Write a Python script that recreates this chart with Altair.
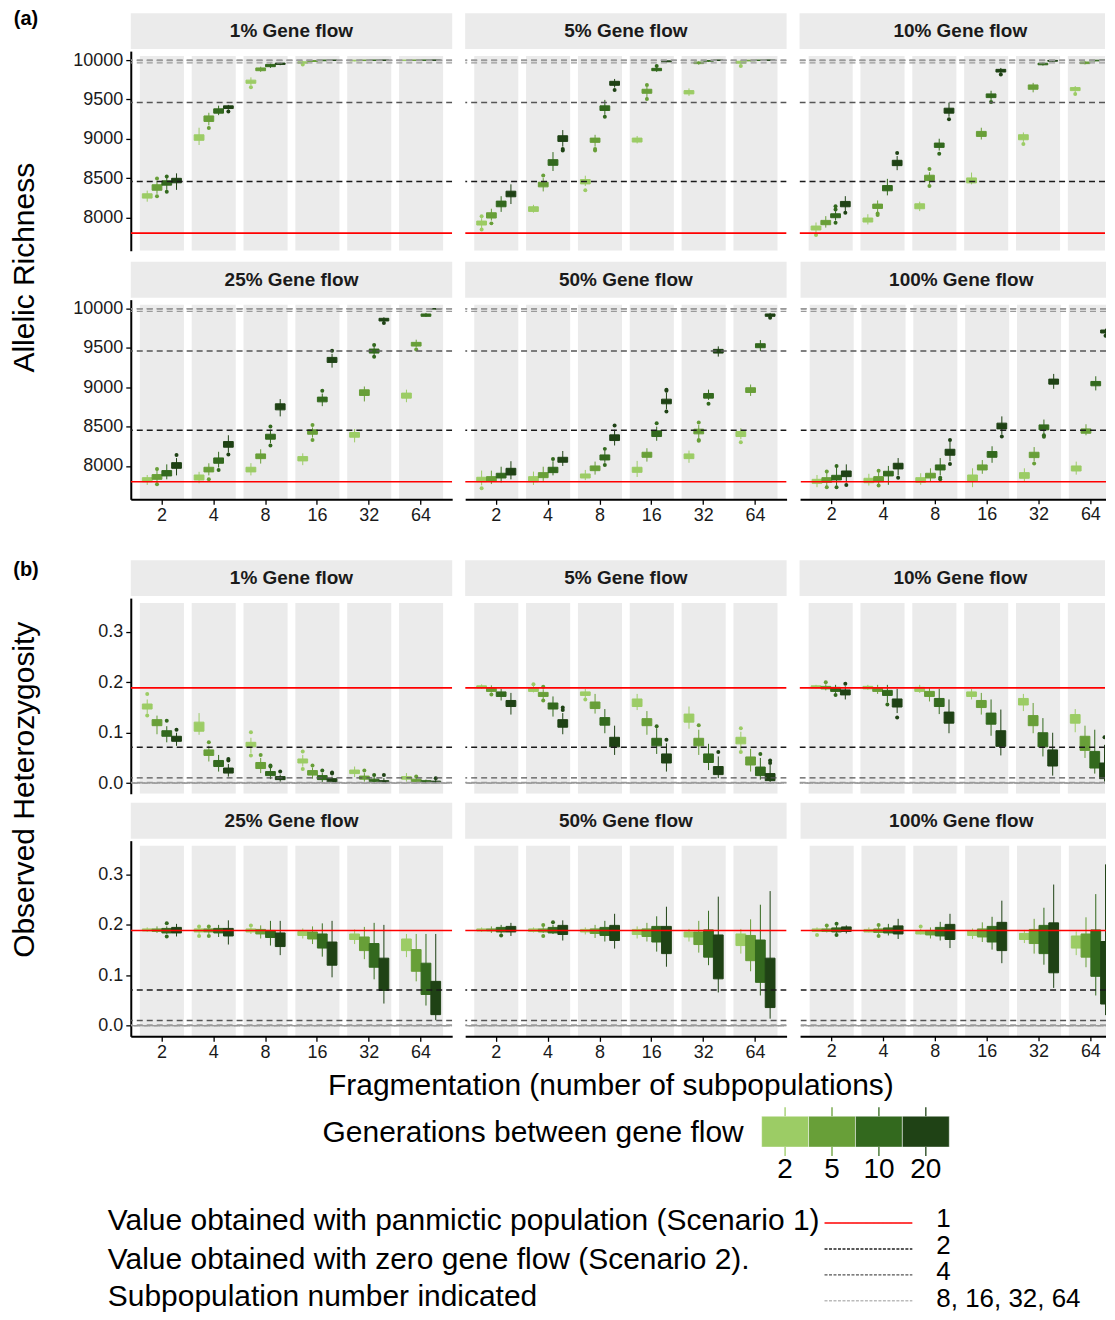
import altair as alt
import pandas as pd

FRAG = ["2", "4", "8", "16", "32", "64"]
GENS = ["2", "5", "10", "20"]
FLOWS = ["1%", "5%", "10%", "25%", "50%", "100%"]
GEN_COLORS = ["#9CCC65", "#689F38", "#33691E", "#1F4215"]

# Allelic richness: per gene flow, per generation -> (lower whisker, Q1, Q3, upper whisker) for fragmentation 2..64
AR_BOX = {
    "1%": {
        "2": [(8200, 8245, 8300, 8340), (8920, 8980, 9050, 9140), (9680, 9705, 9745, 9780), (9950, 9960, 9978, 9988), (9985, 9990, 9998, 10000), (9990, 9994, 10000, 10000)],
        "5": [(8300, 8345, 8415, 8460), (9170, 9220, 9290, 9330), (9850, 9865, 9900, 9915), (9975, 9982, 9994, 10000), (9990, 9994, 10000, 10000), (9992, 9996, 10000, 10000)],
        "10": [(8350, 8410, 8465, 8500), (9300, 9325, 9380, 9420), (9900, 9916, 9945, 9955), (9988, 9992, 10000, 10000), (9993, 9996, 10000, 10000), (9994, 9997, 10000, 10000)],
        "20": [(8350, 8440, 8497, 8560), (9370, 9384, 9418, 9430), (9935, 9945, 9962, 9970), (9993, 9996, 10000, 10000), (9995, 9997, 10000, 10000), (9995, 9998, 10000, 10000)],
    },
    "5%": {
        "2": [(7860, 7903, 7953, 7990), (8060, 8076, 8135, 8160), (8400, 8426, 8481, 8530), (8940, 8958, 9008, 9035), (9545, 9570, 9612, 9640), (9945, 9960, 9985, 9995)],
        "5": [(7960, 7992, 8059, 8110), (8330, 8388, 8447, 8500), (8900, 8954, 9008, 9050), (9510, 9578, 9629, 9660), (9940, 9955, 9975, 9985), (9985, 9990, 9998, 10000)],
        "10": [(8070, 8135, 8207, 8270), (8590, 8662, 8734, 8830), (9304, 9359, 9418, 9494), (9850, 9865, 9895, 9910), (9980, 9985, 9995, 10000), (9992, 9995, 10000, 10000)],
        "20": [(8170, 8262, 8333, 8420), (8900, 8966, 9038, 9110), (9650, 9679, 9730, 9760), (9972, 9978, 9990, 9995), (9994, 9997, 10000, 10000), (9996, 9998, 10000, 10000)],
    },
    "10%": {
        "2": [(7800, 7840, 7890, 7935), (7910, 7941, 7992, 8040), (8080, 8110, 8173, 8200), (8420, 8439, 8502, 8570), (8960, 8987, 9051, 9080), (9585, 9612, 9650, 9670)],
        "5": [(7870, 7907, 7962, 8016), (8065, 8114, 8169, 8215), (8425, 8468, 8536, 8575), (8990, 9030, 9093, 9140), (9590, 9629, 9684, 9710), (9945, 9955, 9975, 9985)],
        "10": [(7960, 7996, 8046, 8080), (8280, 8338, 8405, 8490), (8850, 8890, 8945, 9000), (9490, 9523, 9570, 9610), (9930, 9940, 9960, 9970), (9985, 9990, 9998, 10000)],
        "20": [(8080, 8135, 8203, 8270), (8600, 8658, 8726, 8780), (9280, 9325, 9388, 9460), (9830, 9848, 9882, 9900), (9980, 9986, 9996, 10000), (9995, 9998, 10000, 10000)],
    },
    "25%": {
        "2": [(7758, 7800, 7851, 7885), (7780, 7822, 7885, 7925), (7880, 7924, 7983, 8035), (8010, 8064, 8119, 8160), (8300, 8365, 8425, 8470), (8810, 8862, 8926, 8970)],
        "5": [(7779, 7830, 7890, 7949), (7880, 7924, 7983, 8034), (8030, 8093, 8153, 8212), (8360, 8403, 8459, 8490), (8820, 8896, 8968, 9010), (9505, 9524, 9571, 9605)],
        "10": [(7830, 7873, 7941, 8020), (7980, 8034, 8102, 8180), (8290, 8340, 8403, 8460), (8760, 8815, 8875, 8920), (9400, 9435, 9486, 9520), (9895, 9902, 9932, 9945)],
        "20": [(7880, 7970, 8042, 8100), (8170, 8238, 8310, 8390), (8630, 8713, 8790, 8850), (9250, 9316, 9380, 9425), (9830, 9843, 9877, 9890), (9990, 9994, 10000, 10000)],
    },
    "50%": {
        "2": [(7754, 7800, 7856, 7941), (7758, 7800, 7864, 7928), (7820, 7847, 7898, 7949), (7860, 7919, 7983, 8064), (8040, 8093, 8153, 8195), (8340, 8374, 8437, 8480)],
        "5": [(7770, 7809, 7864, 7940), (7810, 7851, 7915, 7990), (7890, 7940, 8000, 8055), (8055, 8110, 8174, 8225), (8350, 8408, 8467, 8520), (8890, 8934, 8994, 9035)],
        "10": [(7790, 7847, 7907, 7990), (7880, 7915, 7983, 8060), (8040, 8076, 8140, 8200), (8320, 8374, 8446, 8500), (8840, 8862, 8921, 8970), (9460, 9503, 9554, 9600)],
        "20": [(7830, 7885, 7970, 8060), (8000, 8047, 8110, 8190), (8260, 8323, 8395, 8460), (8720, 8790, 8849, 8930), (9390, 9435, 9482, 9520), (9890, 9902, 9932, 9945)],
    },
    "100%": {
        "2": [(7730, 7779, 7830, 7885), (7750, 7787, 7843, 7900), (7760, 7792, 7851, 7907), (7730, 7809, 7885, 7970), (7800, 7843, 7915, 7970), (7890, 7936, 8000, 8055)],
        "5": [(7740, 7792, 7851, 7910), (7760, 7800, 7864, 7920), (7800, 7847, 7907, 7970), (7900, 7949, 8013, 8075), (8060, 8106, 8174, 8240), (8390, 8416, 8471, 8530)],
        "10": [(7750, 7822, 7881, 7990), (7760, 7873, 7932, 8000), (7880, 7949, 8013, 8100), (8040, 8110, 8183, 8250), (8400, 8459, 8522, 8590), (8960, 9019, 9074, 9140)],
        "20": [(7790, 7864, 7936, 8020), (7880, 7962, 8034, 8100), (8060, 8136, 8212, 8310), (8400, 8471, 8544, 8630), (8980, 9040, 9104, 9170), (9680, 9690, 9728, 9745)],
    },
}

AR_OUT = [
    ("1%", "2", "5", 8495), ("1%", "2", "5", 8270), ("1%", "2", "10", 8520), ("1%", "2", "10", 8325),
    ("1%", "4", "5", 9135), ("1%", "4", "20", 9345), ("1%", "8", "2", 9655), ("1%", "16", "2", 9945),
    ("5%", "2", "2", 8016), ("5%", "2", "2", 7845), ("5%", "2", "5", 7924), ("5%", "4", "5", 8532),
    ("5%", "4", "20", 8870), ("5%", "4", "20", 8850), ("5%", "8", "2", 8346), ("5%", "8", "5", 8870),
    ("5%", "8", "5", 8850), ("5%", "8", "10", 9280), ("5%", "8", "20", 9620), ("5%", "16", "5", 9684),
    ("5%", "16", "5", 9506), ("5%", "16", "10", 9925), ("5%", "64", "2", 9925),
    ("10%", "2", "2", 7776), ("10%", "2", "10", 8143), ("10%", "2", "10", 8100), ("10%", "2", "10", 7932),
    ("10%", "2", "20", 8059), ("10%", "4", "5", 8030), ("10%", "4", "5", 8050), ("10%", "4", "20", 8819),
    ("10%", "8", "5", 8616), ("10%", "8", "5", 8400), ("10%", "8", "10", 8810), ("10%", "8", "20", 9249),
    ("10%", "16", "10", 9468), ("10%", "16", "20", 9818), ("10%", "32", "2", 8933), ("10%", "64", "2", 9570),
    ("25%", "2", "5", 7962), ("25%", "2", "5", 7766), ("25%", "2", "20", 8140), ("25%", "4", "5", 7830),
    ("25%", "4", "10", 7949), ("25%", "4", "20", 8144), ("25%", "8", "10", 8500), ("25%", "8", "10", 8259),
    ("25%", "16", "5", 8522), ("25%", "16", "5", 8331), ("25%", "16", "10", 8955), ("25%", "16", "20", 9465),
    ("25%", "32", "10", 9537), ("25%", "32", "10", 9389), ("25%", "32", "20", 9817), ("25%", "64", "5", 9480),
    ("50%", "2", "2", 7715), ("50%", "4", "10", 8089), ("50%", "8", "10", 8217), ("50%", "8", "10", 8013),
    ("50%", "8", "20", 8514), ("50%", "16", "10", 8544), ("50%", "16", "20", 8968), ("50%", "16", "20", 8955),
    ("50%", "16", "20", 8692), ("50%", "32", "5", 8552), ("50%", "32", "5", 8331), ("50%", "32", "5", 8320),
    ("50%", "32", "10", 8790), ("50%", "64", "2", 8301), ("50%", "64", "20", 9885),
    ("100%", "2", "5", 7928), ("100%", "2", "5", 7728), ("100%", "2", "10", 8000), ("100%", "2", "10", 7730),
    ("100%", "2", "20", 7758), ("100%", "4", "5", 7940), ("100%", "4", "5", 7750), ("100%", "4", "20", 7851),
    ("100%", "8", "10", 7850), ("100%", "8", "10", 7830), ("100%", "8", "20", 8330), ("100%", "8", "20", 8026),
    ("100%", "16", "20", 8374), ("100%", "32", "5", 8030), ("100%", "32", "10", 8390), ("100%", "32", "10", 8370),
    ("100%", "64", "20", 9656),
]

# Observed heterozygosity
HO_BOX = {
    "1%": {
        "2": [(0.138, 0.147, 0.157, 0.166), (0.096, 0.103, 0.121, 0.139), (0.060, 0.072, 0.081, 0.090), (0.033, 0.040, 0.048, 0.056), (0.012, 0.019, 0.026, 0.033), (0.003, 0.008, 0.013, 0.020)],
        "5": [(0.097, 0.114, 0.126, 0.134), (0.043, 0.055, 0.066, 0.074), (0.020, 0.029, 0.041, 0.050), (0.009, 0.016, 0.025, 0.031), (0.003, 0.008, 0.014, 0.020), (0.000, 0.003, 0.008, 0.011)],
        "10": [(0.081, 0.093, 0.104, 0.113), (0.023, 0.033, 0.045, 0.056), (0.008, 0.015, 0.023, 0.030), (0.002, 0.007, 0.015, 0.020), (0.000, 0.003, 0.008, 0.013), (0.000, 0.001, 0.005, 0.007)],
        "20": [(0.074, 0.083, 0.093, 0.100), (0.013, 0.020, 0.030, 0.038), (0.003, 0.007, 0.013, 0.017), (0.000, 0.002, 0.009, 0.013), (0.000, 0.001, 0.005, 0.010), (0.000, 0.001, 0.004, 0.007)],
    },
    "5%": {
        "2": [(0.187, 0.189, 0.193, 0.196), (0.180, 0.182, 0.189, 0.193), (0.169, 0.174, 0.181, 0.187), (0.145, 0.152, 0.167, 0.177), (0.108, 0.121, 0.137, 0.152), (0.066, 0.078, 0.091, 0.102)],
        "5": [(0.180, 0.182, 0.189, 0.194), (0.167, 0.172, 0.180, 0.186), (0.138, 0.148, 0.161, 0.177), (0.096, 0.114, 0.128, 0.143), (0.056, 0.074, 0.089, 0.106), (0.023, 0.036, 0.052, 0.068)],
        "10": [(0.164, 0.172, 0.181, 0.187), (0.132, 0.147, 0.159, 0.172), (0.099, 0.115, 0.130, 0.147), (0.058, 0.074, 0.089, 0.109), (0.026, 0.041, 0.058, 0.078), (0.007, 0.015, 0.032, 0.050)],
        "20": [(0.136, 0.152, 0.164, 0.179), (0.097, 0.111, 0.126, 0.139), (0.056, 0.072, 0.091, 0.114), (0.023, 0.040, 0.058, 0.079), (0.010, 0.017, 0.033, 0.053), (0.002, 0.005, 0.019, 0.036)],
    },
    "10%": {
        "2": [(0.188, 0.189, 0.193, 0.195), (0.185, 0.187, 0.192, 0.195), (0.179, 0.182, 0.190, 0.195), (0.166, 0.172, 0.181, 0.187), (0.143, 0.155, 0.168, 0.177), (0.101, 0.119, 0.136, 0.147)],
        "5": [(0.184, 0.187, 0.192, 0.196), (0.177, 0.182, 0.189, 0.195), (0.162, 0.172, 0.182, 0.190), (0.136, 0.150, 0.164, 0.179), (0.099, 0.114, 0.134, 0.159), (0.050, 0.065, 0.093, 0.114)],
        "10": [(0.179, 0.182, 0.190, 0.195), (0.160, 0.174, 0.184, 0.195), (0.137, 0.152, 0.168, 0.187), (0.094, 0.117, 0.139, 0.166), (0.053, 0.072, 0.100, 0.129), (0.019, 0.030, 0.063, 0.106)],
        "20": [(0.166, 0.175, 0.185, 0.192), (0.139, 0.151, 0.167, 0.187), (0.099, 0.119, 0.141, 0.166), (0.055, 0.073, 0.104, 0.146), (0.015, 0.034, 0.066, 0.100), (0.003, 0.009, 0.040, 0.076)],
    },
    "25%": {
        "2": [(0.186, 0.188, 0.192, 0.195), (0.182, 0.186, 0.192, 0.196), (0.182, 0.186, 0.192, 0.195), (0.173, 0.179, 0.187, 0.193), (0.162, 0.171, 0.182, 0.191), (0.136, 0.149, 0.172, 0.182)],
        "5": [(0.184, 0.187, 0.192, 0.197), (0.182, 0.186, 0.192, 0.196), (0.173, 0.182, 0.191, 0.199), (0.162, 0.172, 0.186, 0.197), (0.132, 0.149, 0.176, 0.196), (0.088, 0.108, 0.151, 0.182)],
        "10": [(0.182, 0.184, 0.193, 0.197), (0.176, 0.184, 0.193, 0.200), (0.159, 0.175, 0.189, 0.208), (0.137, 0.154, 0.182, 0.203), (0.092, 0.116, 0.163, 0.204), (0.040, 0.062, 0.124, 0.182)],
        "20": [(0.177, 0.184, 0.195, 0.202), (0.161, 0.178, 0.193, 0.209), (0.140, 0.157, 0.184, 0.208), (0.096, 0.120, 0.166, 0.208), (0.044, 0.070, 0.134, 0.200), (0.011, 0.022, 0.088, 0.182)],
    },
    "50%": {
        "2": [(0.186, 0.188, 0.192, 0.195), (0.185, 0.187, 0.192, 0.195), (0.181, 0.186, 0.191, 0.195), (0.173, 0.181, 0.191, 0.197), (0.167, 0.176, 0.186, 0.192), (0.143, 0.159, 0.182, 0.192)],
        "5": [(0.184, 0.188, 0.192, 0.197), (0.184, 0.186, 0.192, 0.197), (0.174, 0.183, 0.192, 0.200), (0.167, 0.177, 0.192, 0.204), (0.145, 0.161, 0.186, 0.208), (0.108, 0.129, 0.179, 0.211)],
        "10": [(0.183, 0.186, 0.195, 0.200), (0.182, 0.184, 0.195, 0.200), (0.167, 0.179, 0.195, 0.208), (0.147, 0.166, 0.197, 0.217), (0.120, 0.136, 0.190, 0.228), (0.060, 0.086, 0.170, 0.240)],
        "20": [(0.178, 0.186, 0.197, 0.204), (0.169, 0.181, 0.199, 0.209), (0.153, 0.169, 0.199, 0.222), (0.117, 0.143, 0.197, 0.236), (0.066, 0.093, 0.180, 0.256), (0.014, 0.036, 0.134, 0.267)],
    },
    "100%": {
        "2": [(0.186, 0.187, 0.192, 0.195), (0.185, 0.186, 0.191, 0.195), (0.181, 0.182, 0.188, 0.192), (0.172, 0.179, 0.188, 0.193), (0.164, 0.171, 0.183, 0.190), (0.140, 0.154, 0.178, 0.187)],
        "5": [(0.185, 0.187, 0.192, 0.196), (0.182, 0.185, 0.192, 0.196), (0.173, 0.180, 0.189, 0.195), (0.166, 0.176, 0.192, 0.205), (0.143, 0.163, 0.191, 0.212), (0.116, 0.136, 0.182, 0.215)],
        "10": [(0.184, 0.186, 0.194, 0.198), (0.179, 0.184, 0.194, 0.202), (0.169, 0.178, 0.195, 0.206), (0.151, 0.166, 0.197, 0.216), (0.121, 0.143, 0.199, 0.234), (0.060, 0.098, 0.190, 0.261)],
        "20": [(0.183, 0.187, 0.196, 0.199), (0.172, 0.182, 0.198, 0.212), (0.154, 0.171, 0.201, 0.222), (0.124, 0.149, 0.205, 0.248), (0.075, 0.105, 0.204, 0.280), (0.021, 0.043, 0.167, 0.320)],
    },
}

HO_OUT = [
    ("1%", "2", "2", 0.177), ("1%", "2", "2", 0.134), ("1%", "2", "10", 0.124), ("1%", "2", "20", 0.106),
    ("1%", "4", "5", 0.081), ("1%", "4", "20", 0.045), ("1%", "4", "20", 0.048), ("1%", "8", "2", 0.101),
    ("1%", "8", "2", 0.055), ("1%", "8", "5", 0.056), ("1%", "8", "10", 0.035), ("1%", "8", "10", 0.033),
    ("1%", "8", "20", 0.023), ("1%", "16", "2", 0.063), ("1%", "16", "2", 0.028), ("1%", "16", "5", 0.035),
    ("1%", "16", "10", 0.025), ("1%", "16", "20", 0.021), ("1%", "16", "20", 0.019), ("1%", "32", "5", 0.025),
    ("1%", "32", "10", 0.016), ("1%", "32", "20", 0.016), ("1%", "64", "5", 0.013), ("1%", "64", "20", 0.010),
    ("5%", "2", "5", 0.176), ("5%", "4", "2", 0.196), ("5%", "4", "5", 0.191), ("5%", "4", "5", 0.164),
    ("5%", "4", "20", 0.150), ("5%", "4", "20", 0.145), ("5%", "8", "2", 0.166), ("5%", "16", "10", 0.113),
    ("5%", "16", "20", 0.086), ("5%", "32", "5", 0.115), ("5%", "32", "20", 0.062), ("5%", "64", "2", 0.109),
    ("5%", "64", "2", 0.062), ("5%", "64", "10", 0.058), ("5%", "64", "20", 0.045), ("5%", "64", "20", 0.040),
    ("10%", "2", "5", 0.200), ("10%", "2", "10", 0.175), ("10%", "2", "20", 0.197), ("10%", "4", "10", 0.156),
    ("10%", "4", "20", 0.130), ("10%", "64", "20", 0.091),
    ("25%", "2", "10", 0.203), ("25%", "2", "10", 0.177), ("25%", "4", "2", 0.197), ("25%", "4", "2", 0.178),
    ("25%", "4", "5", 0.197), ("25%", "4", "5", 0.178), ("25%", "8", "2", 0.199),
    ("50%", "2", "10", 0.179), ("50%", "4", "5", 0.200), ("50%", "4", "5", 0.178), ("50%", "4", "10", 0.205),
    ("100%", "2", "2", 0.180), ("100%", "2", "5", 0.199), ("100%", "2", "10", 0.202), ("100%", "2", "10", 0.180),
    ("100%", "4", "5", 0.200), ("100%", "4", "5", 0.178), ("100%", "8", "2", 0.197),
]

# reference values: panmictic population and zero gene flow with given number of subpopulations
REF_LEVELS = ["panmictic", "2", "4", "8", "16", "32", "64"]
AR_REF = [7800, 8455, 9462, 9965, 9993, 9999, 10000]
HO_REF = [0.189, 0.071, 0.0105, 0.0015, 0.0004, 0.0001, 0.0]

LEG_LVLS = ["1", "2", "4", "8, 16, 32, 64"]
LEG_TEXT = ["Value obtained with panmictic population (Scenario 1)",
            "Value obtained with zero gene flow (Scenario 2).",
            "Subpopulation number indicated"]

# ---------------- build tables ----------------
rows = []
for sec, box in (("AR", AR_BOX), ("HO", HO_BOX)):
    for flow, gd in box.items():
        for gen, lst in gd.items():
            for frag, (lo, q1, q3, hi) in zip(FRAG, lst):
                rows.append(dict(sec=sec, flow=flow, gen=gen, frag=frag, lo=lo, q1=q1, q3=q3, hi=hi))
box_df = pd.DataFrame(rows)
out_df = pd.DataFrame([dict(sec=s, flow=f, frag=fr, gen=g, value=v)
                       for s, lst in (("AR", AR_OUT), ("HO", HO_OUT)) for (f, fr, g, v) in lst])
ref_df = pd.DataFrame([dict(sec=s, lvl=l, value=v)
                       for s, vals in (("AR", AR_REF), ("HO", HO_REF)) for l, v in zip(REF_LEVELS, vals)])
frag_df = pd.DataFrame({"frag": FRAG})
one_df = pd.DataFrame({"k": [0]})
gen_df = pd.DataFrame({"gen": GENS})
lvl_df = pd.DataFrame({"lvl": LEG_LVLS})
lab_df = pd.DataFrame({"lab": LEG_LVLS})

BAND = "#EBEBEB"
STRIP = "#EBEBEB"
TXT = "#1a1a1a"
REF_STYLE = {
    "panmictic": ("#FF0000", None, 1.6),
    "2": ("#1a1a1a", [6, 4], 1.5),
    "4": ("#555555", [6, 4], 1.5),
    "8": ("#9a9a9a", [6, 4], 1.3),
    "16": ("#9a9a9a", [6, 4], 1.3),
    "32": ("#9a9a9a", [6, 4], 1.3),
    "64": ("#9a9a9a", [6, 4], 1.3),
}
DASH_OFFSET = {"AR": {"8": 0, "16": 0, "32": 0, "64": 0},
               "HO": {"8": 0, "16": 2.5, "32": 5, "64": 7.5}}
YDOM = {"AR": [7576, 10114], "HO": [-0.021, 0.367]}
YTICKS = {"AR": [8000, 8500, 9000, 9500, 10000], "HO": [0.0, 0.1, 0.2, 0.3]}
YFMT = {"AR": "d", "HO": ".1f"}
HEIGHTS = {"AR": [200, 200], "HO": [196, 196]}
FULLW = 322
WIDTHS = [322, 322, 306]

cs = alt.Scale(domain=GENS, range=GEN_COLORS)


def panel(sec, flow, row, col):
    H = HEIGHTS[sec][row]
    Wd = WIDTHS[col]
    ys = alt.Scale(domain=YDOM[sec], nice=False, zero=False)
    if col == 0:
        yax = alt.Axis(values=YTICKS[sec], format=YFMT[sec], title=None, grid=False,
                       labelFontSize=18, labelColor=TXT, tickColor="#000", domainColor="#000",
                       tickSize=5, tickWidth=1.3, domainWidth=2, labelPadding=3,
                       minExtent=83, maxExtent=83)
    else:
        yax = None
    # the right-hand column is cropped like the original figure: its axis is drawn with marks
    if row == 1 and col < 2:
        xax = alt.Axis(title=None, labelAngle=0, labelFontSize=18, labelColor=TXT,
                       tickColor="#000", domainColor="#000", tickSize=5, tickWidth=1.3,
                       domainWidth=2, labelPadding=2, grid=False)
    else:
        xax = None
    xs = alt.Scale(domain=FRAG, paddingInner=0.15, paddingOuter=0.175, range=[0, FULLW])
    X = alt.X("frag:N", sort=FRAG, scale=xs, axis=xax)
    XO = alt.XOffset("gen:N", sort=GENS, scale=alt.Scale(domain=GENS, paddingInner=0, paddingOuter=0.256))
    bdf = box_df[(box_df.sec == sec) & (box_df.flow == flow)]
    odf = out_df[(out_df.sec == sec) & (out_df.flow == flow)]
    rdf = ref_df[ref_df.sec == sec]

    layers = []
    layers.append(alt.Chart(one_df).mark_rect(color=STRIP).encode(
        x=alt.value(0), x2=alt.value(Wd), y=alt.value(-38), y2=alt.value(-2)))
    layers.append(alt.Chart(one_df).mark_text(text=flow + " Gene flow", fontSize=19, fontWeight="bold",
                                              color=TXT, baseline="middle").encode(
        x=alt.value(FULLW / 2), y=alt.value(-20)))
    layers.append(alt.Chart(frag_df).mark_rect(color=BAND, clip=True).encode(
        x=X, y=alt.value(5), y2=alt.value(H)))
    layers.append(alt.Chart(bdf).mark_rule(strokeWidth=1, clip=True).encode(
        x=X, xOffset=XO, y=alt.Y("lo:Q", scale=ys, axis=yax), y2="hi:Q",
        stroke=alt.Stroke("gen:N", scale=cs, legend=None)))
    layers.append(alt.Chart(bdf).mark_bar(strokeWidth=1, clip=True).encode(
        x=X, xOffset=XO, y=alt.Y("q1:Q", scale=ys, axis=yax), y2="q3:Q",
        fill=alt.Fill("gen:N", scale=cs, legend=None),
        stroke=alt.Stroke("gen:N", scale=cs, legend=None)))
    layers.append(alt.Chart(odf).mark_circle(size=16, opacity=1, clip=True).encode(
        x=X, xOffset=XO, y=alt.Y("value:Q", scale=ys, axis=yax),
        fill=alt.Fill("gen:N", scale=cs, legend=None)))
    for lvl in REF_LEVELS:
        colr, dash, wd = REF_STYLE[lvl]
        kw = dict(color=colr, strokeWidth=wd, clip=True)
        if dash is not None:
            kw["strokeDash"] = dash
            off = DASH_OFFSET[sec].get(lvl, 0)
            if off:
                kw["strokeDashOffset"] = off
        layers.append(alt.Chart(rdf[rdf.lvl == lvl]).mark_rule(**kw).encode(
            y=alt.Y("value:Q", scale=ys, axis=yax)))
    if row == 1 and col == 2:
        layers.append(alt.Chart(one_df).mark_rule(color="#000", strokeWidth=2).encode(
            x=alt.value(0), x2=alt.value(Wd), y=alt.value(H + 0.5), y2=alt.value(H + 0.5)))
        layers.append(alt.Chart(frag_df).mark_rule(color="#000", strokeWidth=1.3).encode(
            x=X, y=alt.value(H), y2=alt.value(H + 5)))
        layers.append(alt.Chart(frag_df).mark_text(fontSize=18, color=TXT, baseline="top").encode(
            x=X, y=alt.value(H + 7), text="frag:N"))
    return alt.layer(*layers).properties(width=Wd, height=H)


def ytitle(tag, tag_y, label, cy, h):
    t1 = alt.Chart(one_df).mark_text(text=tag, fontSize=20, fontWeight="bold", align="center",
                                     baseline="top", color="#000").encode(x=alt.value(18), y=alt.value(tag_y))
    t2 = alt.Chart(one_df).mark_text(text=label, fontSize=30, angle=270, align="center",
                                     baseline="middle", color="#000").encode(x=alt.value(17), y=alt.value(cy))
    return alt.layer(t1, t2).properties(width=40, height=h)


def section(sec, tag, tag_y, label, cy, h, rowgap):
    r1 = alt.hconcat(*[panel(sec, FLOWS[c], 0, c) for c in range(3)], spacing=13)
    r2 = alt.hconcat(*[panel(sec, FLOWS[3 + c], 1, c) for c in range(3)], spacing=13)
    grid = alt.vconcat(r1, r2, spacing=rowgap)
    return alt.hconcat(ytitle(tag, tag_y, label, cy, h), grid, spacing=0)


secA = section("AR", "(a)", -42, "Allelic Richness", 217, 440, 11)
secB = section("HO", "(b)", -38, "Observed Heterozygosity", 192, 440, 9)

# ---------------- bottom legends ----------------
kx = alt.X("gen:N", sort=GENS, scale=alt.Scale(domain=GENS, range=[755, 943], paddingInner=0, paddingOuter=0), axis=None)
xtitle = alt.Chart(one_df).mark_text(text="Fragmentation (number of subpopulations)", fontSize=30,
                                     color="#000", baseline="middle").encode(x=alt.value(604), y=alt.value(24))
gtitle = alt.Chart(one_df).mark_text(text="Generations between gene flow", fontSize=30, align="right",
                                     color="#000", baseline="middle").encode(x=alt.value(737), y=alt.value(71))
keys = alt.Chart(gen_df).mark_rect(stroke="#ffffff", strokeWidth=0.5).encode(
    x=kx, y=alt.value(54), y2=alt.value(85), fill=alt.Fill("gen:N", scale=cs, legend=None))
ktop = alt.Chart(gen_df).mark_rule(strokeWidth=1.3).encode(x=kx, y=alt.value(45), y2=alt.value(54),
                                                           stroke=alt.Stroke("gen:N", scale=cs, legend=None))
kbot = alt.Chart(gen_df).mark_rule(strokeWidth=1.3).encode(x=kx, y=alt.value(85), y2=alt.value(94),
                                                           stroke=alt.Stroke("gen:N", scale=cs, legend=None))
klab = alt.Chart(gen_df).mark_text(fontSize=28, baseline="middle", color="#000").encode(
    x=kx, y=alt.value(108), text="gen:N")
ltexts = [alt.Chart(one_df).mark_text(text=t, fontSize=30, align="left", baseline="middle", color="#000").encode(
    x=alt.value(100), y=alt.value(yy)) for t, yy in zip(LEG_TEXT, [159, 198, 235])]
ly = alt.Y("lvl:N", sort=LEG_LVLS, scale=alt.Scale(type="point", domain=LEG_LVLS, range=[161, 239], padding=0), axis=None)
lrules = alt.Chart(lvl_df).mark_rule().encode(
    x=alt.value(818), x2=alt.value(906), y=ly,
    color=alt.Color("lvl:N", scale=alt.Scale(domain=LEG_LVLS, range=["#FF0000", "#222222", "#555555", "#9a9a9a"]), legend=None),
    strokeDash=alt.StrokeDash("lvl:N", scale=alt.Scale(domain=LEG_LVLS, range=[[1, 0], [3, 1.5], [3, 1.5], [3, 1.5]]), legend=None),
    strokeWidth=alt.StrokeWidth("lvl:O", scale=alt.Scale(domain=LEG_LVLS, range=[1.6, 1, 1, 1]), legend=None))
lly = alt.Y("lab:N", sort=LEG_LVLS, scale=alt.Scale(type="point", domain=LEG_LVLS, range=[157, 237], padding=0), axis=None)
llab = alt.Chart(lab_df).mark_text(fontSize=26, align="left", baseline="middle", color="#000").encode(
    x=alt.value(930), y=lly, text="lab:N")
bottom = alt.layer(xtitle, gtitle, keys, ktop, kbot, klab, *ltexts, lrules, llab).resolve_scale(
    y="independent").properties(width=1000, height=245)

chart = alt.vconcat(alt.vconcat(secA, secB, spacing=36), bottom, spacing=1).properties(
    padding={"left": 0, "top": 0, "right": 0, "bottom": 0}
).configure(font="Liberation Sans").configure_view(strokeWidth=0)

chart.save("out.html", embed_options={"renderer": "svg", "actions": False})
